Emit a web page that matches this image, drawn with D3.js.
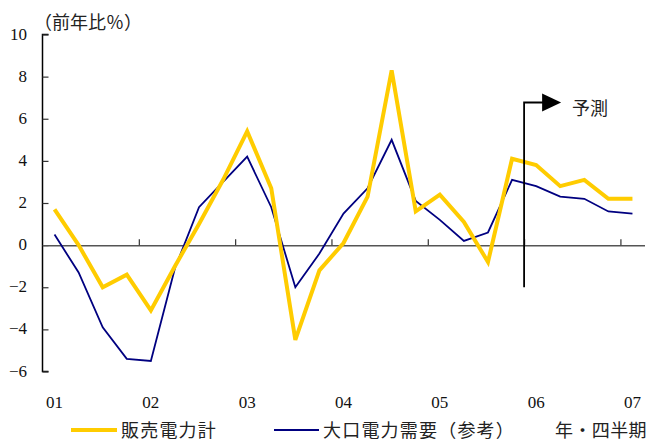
<!DOCTYPE html>
<html>
<head>
<meta charset="utf-8">
<script src="https://cdn.jsdelivr.net/npm/d3@7"></script>
<style>
  html, body { margin: 0; padding: 0; background: #fff; }
  svg { display: block; }
</style>
</head>
<body>
<svg id="chart" width="654" height="441"></svg>
<script>
// Fiscal years shown on the x axis (label sits on the first quarter of each year)
const years = ["01", "02", "03", "04", "05", "06", "07"];
// Quarterly periods, 2001 Q1 through 2007 Q1
const quarters = [
  "01Q1","01Q2","01Q3","01Q4","02Q1","02Q2","02Q3","02Q4",
  "03Q1","03Q2","03Q3","03Q4","04Q1","04Q2","04Q3","04Q4",
  "05Q1","05Q2","05Q3","05Q4","06Q1","06Q2","06Q3","06Q4","07Q1"
];
// 販売電力計 (year-on-year %)
const salesTotal = [1.7, 0.0, -2.0, -1.4, -3.1, -1.0, 1.0, 3.1, 5.4, 2.7, -4.5, -1.2, 0.1,
                    2.3, 8.3, 1.6, 2.4, 1.1, -0.8, 4.1, 3.8, 2.8, 3.1, 2.2, 2.2];
// 大口電力需要（参考） (year-on-year %)
const largeDemand = [0.5, -1.3, -3.9, -5.4, -5.5, -1.1, 1.8, 3.0, 4.2, 1.8, -2.0, -0.4, 1.5,
                     2.7, 5.0, 2.1, 1.2, 0.2, 0.6, 3.1, 2.8, 2.3, 2.2, 1.6, 1.5];
// Y axis ticks
const yTicks = [-6, -4, -2, 0, 2, 4, 6, 8, 10];
// Index of the first forecast quarter (06 Q1)
const forecastStart = 20;

const svg = d3.select("#chart");
const serif = "'Liberation Serif', 'Times New Roman', serif";
const jp = "'Noto Sans CJK JP', sans-serif";

// x: quarter slots, each point centred in its slot
const x = d3.scaleLinear().domain([0, quarters.length]).range([42.5, 644.5]);
const y = d3.scaleLinear().domain([-6, 10]).range([371.5, 34.5]);
const px = i => x(i + 0.5);

// Y axis
const yAxis = d3.axisRight(y).tickValues(yTicks).tickSize(6).tickFormat("");
const gy = svg.append("g").attr("transform", `translate(${x(0)},0)`).call(yAxis);
gy.select(".domain").attr("d", `M6,${y(10)}H0V${y(-6)}H6`).attr("stroke", "#000").attr("stroke-width", 1.5);
gy.selectAll(".tick line").attr("stroke", "#333").attr("stroke-width", 1.2);

// Y tick labels
svg.append("g").selectAll("text").data(yTicks).join("text")
  .attr("x", 27).attr("y", d => y(d) + 5)
  .attr("text-anchor", "end")
  .attr("font-family", serif).attr("font-size", 17).attr("fill", "#111")
  .text(d => d < 0 ? "\u2212" + Math.abs(d) : d);

// Unit label
svg.append("text").attr("x", 34).attr("y", 29)
  .attr("font-family", jp).attr("font-size", 18).attr("fill", "#222")
  .text("（前年比％）");

// Zero line with year-boundary ticks
const xAxis = d3.axisTop(x)
  .tickValues(d3.range(4, quarters.length, 4))
  .tickSize(6).tickSizeOuter(0).tickFormat("");
const gx = svg.append("g").attr("transform", `translate(0,${y(0)})`).call(xAxis);
gx.select(".domain").attr("stroke", "#555").attr("stroke-width", 1.5);
gx.selectAll(".tick line").attr("stroke", "#333").attr("stroke-width", 1.2);

// Year labels under the chart
svg.append("g").selectAll("text").data(years).join("text")
  .attr("x", (d, k) => px(k * 4)).attr("y", 408)
  .attr("text-anchor", "middle")
  .attr("font-family", serif).attr("font-size", 17).attr("fill", "#111")
  .text(d => d);

// Series lines
const line = d3.line().x((d, i) => px(i)).y(d => y(d));
svg.append("path").datum(largeDemand)
  .attr("d", line).attr("fill", "none")
  .attr("stroke", "#000080").attr("stroke-width", 1.8).attr("stroke-linejoin", "miter");
svg.append("path").datum(salesTotal)
  .attr("d", line).attr("fill", "none")
  .attr("stroke", "#FFCC00").attr("stroke-width", 4).attr("stroke-linejoin", "miter");

// Forecast marker
const fx = x(forecastStart);
const topY = 102.5;
svg.append("path")
  .attr("d", `M${fx},${y(-2)}V${topY}H${fx + 19}`)
  .attr("fill", "none").attr("stroke", "#000").attr("stroke-width", 1.8);
svg.append("path")
  .attr("d", `M${fx + 18},${topY - 9}L${fx + 37},${topY}L${fx + 18},${topY + 9}Z`)
  .attr("fill", "#000");
svg.append("text").attr("x", fx + 48).attr("y", topY + 12)
  .attr("font-family", jp).attr("font-size", 18).attr("fill", "#222")
  .text("予測");

// Legend
const legend = svg.append("g")
  .attr("font-family", jp).attr("font-size", 18).attr("fill", "#222")
  .attr("letter-spacing", 1.2);
legend.append("line").attr("x1", 71).attr("x2", 117).attr("y1", 430).attr("y2", 430)
  .attr("stroke", "#FFCC00").attr("stroke-width", 4);
legend.append("text").attr("x", 121).attr("y", 437).text("販売電力計");
legend.append("line").attr("x1", 274).attr("x2", 319).attr("y1", 430).attr("y2", 430)
  .attr("stroke", "#000080").attr("stroke-width", 1.8);
legend.append("text").attr("x", 323).attr("y", 437).text("大口電力需要（参考）");
legend.append("text").attr("x", 555).attr("y", 437).attr("letter-spacing", 0.4).text("年・四半期");
</script>
</body>
</html>
